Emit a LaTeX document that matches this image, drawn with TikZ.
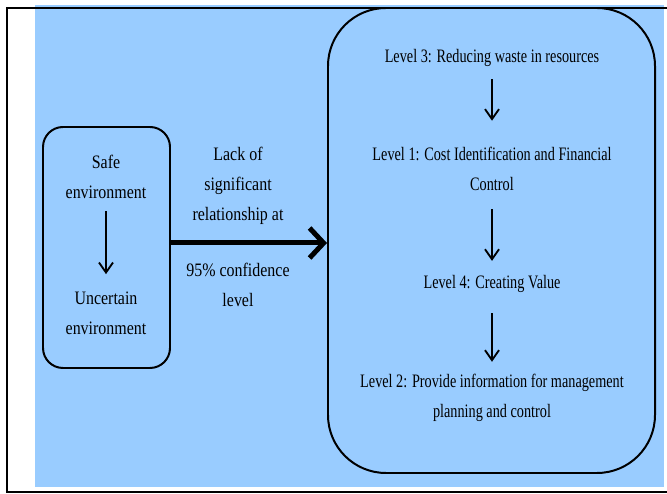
\documentclass[tikz,border=0pt]{standalone}
\usepackage{fontspec}
\usepackage{tikz}
\usetikzlibrary{
	positioning,
	arrows.meta
}
\setmainfont{Liberation Serif}[FakeStretch=0.75]
\newfontfamily\widerfont{Liberation Serif}[FakeStretch=0.84]
\definecolor{bgblue}{HTML}{99CCFF}
\colorlet{mc}{black}
\tikzset{
	every picture/.style={
		line width=.7mm,
		draw=mc,
		text=mc,
	},
	box/.style={
		draw,
		fill=bgblue,
		rectangle,
		inner sep=0pt,
	},
	txt/.style={
		align=center,
		inner sep=0pt,
		font=\fontsize{19}{30}\selectfont,
	},
	ltxt/.style={
		txt,
		font=\widerfont\fontsize{19}{30}\selectfont,
	},
	thin/.style={
		line width=.65mm,
		-{Straight Barb[length=10pt,width=14pt]},
	},
}

\begin{document}
\begin{tikzpicture}[x=1pt, y=-1pt]
	\useasboundingbox (0,0) rectangle (667,494);
	\fill[bgblue] (35,5) rectangle (664,487);
	\draw (667,8) -- (7,8) -- (7,492) -- (667,492);

	% left box
	\node[box, rounded corners=20pt, minimum width=127pt, minimum height=241pt] (env) at (106.5,247.5) {};
	\node[ltxt] (safe) at (106,176.5) {Safe\\environment};
	\node[ltxt] (unc) at (106,313.5) {Uncertain\\environment};
	\draw[thin, shorten <=12pt, shorten >=17pt] (safe) -- (unc);

	% right box
	\node[box, rounded corners=58pt, minimum width=327pt, minimum height=465pt] (levels) at (491.5,240.5) {};
	\node[txt] (l3) at (492,57.5) {Level 3: Reducing waste in resources};
	\node[txt] (l1) at (492,168.5) {Level 1: Cost Identification and Financial\\Control};
	\node[txt] (l4) at (492,283.5) {Level 4: Creating Value};
	\node[txt] (l2) at (492,397.5) {Level 2: Provide information for management\\planning and control};
	\foreach \a/\b/\s/\e in {l3/l1/12/25, l1/l4/18/13, l4/l2/20/11}
		\draw[thin, shorten <=\s pt, shorten >=\e pt] (\a) -- (\b);

	% link between the boxes
	\node[ltxt] (lack) at (238,186) {Lack of\\significant\\relationship at};
	\node[ltxt] (conf) at (238,285) {95\% confidence\\level};
	\draw[line width=5pt, -{Straight Barb[length=14pt,width=30pt]}]
		([yshift=4.5pt]env.east) -- ([yshift=4.5pt]env.east -| levels.west);
\end{tikzpicture}
\end{document}
